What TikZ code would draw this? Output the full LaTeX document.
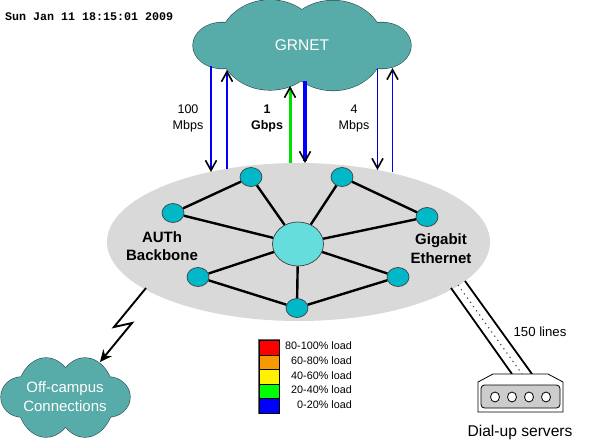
\documentclass[tikz,border=0pt]{standalone}
\usepackage{fontspec}
\setmainfont{Liberation Sans}
\newfontfamily\stampfont{Liberation Mono}
\usetikzlibrary{shapes.geometric,arrows.meta}
\definecolor{cloudteal}{HTML}{57ABA9}
\definecolor{cloudline}{HTML}{2F4F4E}
\definecolor{hubcol}{HTML}{66DDDD}
\definecolor{nodecol}{HTML}{00B8C8}
\definecolor{ellgray}{HTML}{D9D9D9}
\definecolor{pureblue}{HTML}{0000FF}
\definecolor{darkerblue}{HTML}{0000C8}
\definecolor{puregreen}{HTML}{00E000}
\definecolor{loadorange}{HTML}{F79900}
\tikzset{
  x=1pt,y=-1pt,
  router/.style={ellipse,draw=black!75,line width=0.7pt,fill=nodecol,minimum width=22pt,minimum height=19pt,inner sep=0pt},
  hubnode/.style={ellipse,draw=black!75,line width=0.7pt,fill=hubcol,minimum width=51pt,minimum height=44pt,inner sep=0pt},
  backbone/.style={line width=2.4pt,black},
  barbdown/.style={-{Straight Barb[black,length=10pt,width=11pt,line width=1.6pt]}},
  lbl/.style={inner sep=0pt,align=center,font=\fontsize{12.5}{16}\selectfont},
  boldlbl/.style={inner sep=0pt,align=center,font=\fontsize{12.5}{16}\selectfont\bfseries},
  netlbl/.style={inner sep=0pt,align=center,font=\fontsize{15}{18.5}\selectfont\bfseries},
  cloudlbl/.style={inner sep=0pt,align=center,text=white,font=\fontsize{15}{19}\selectfont},
  swatch/.style={draw=black,line width=0.6pt,minimum width=20pt,minimum height=14.6pt,inner sep=0pt,anchor=north west},
  loadlbl/.style={inner sep=0pt,anchor=east,font=\fontsize{10.8}{12}\selectfont},
}
\begin{document}
\begin{tikzpicture}
\useasboundingbox (0,0) rectangle (594,442);
\fill[white] (0,0) rectangle (594,442);

% gray backbone ellipse
\node[ellipse,fill=ellgray,minimum width=383pt,minimum height=158pt,inner sep=0pt] (backarea) at (298.5,242) {};

% GRNET cloud
\foreach \c/\rx/\ry in {{(222,45.5)}/29/23,{(270,45)}/51/45,{(333,45.5)}/51/45,{(382,45.5)}/29/23}{
  \draw[cloudline,line width=1.2pt] \c ellipse [x radius=\rx pt,y radius=\ry pt];}
\foreach \c/\rx/\ry in {{(222,45.5)}/29/23,{(270,45)}/51/45,{(333,45.5)}/51/45,{(382,45.5)}/29/23}{
  \fill[cloudteal] \c ellipse [x radius=\rx pt,y radius=\ry pt];}
\node[inner sep=0pt,text=white,font=\fontsize{15.5}{18}\selectfont] (grnet) at (302,45) {GRNET};

% Off-campus cloud
\foreach \c/\rx/\ry in {{(22,397)}/21/20,{(46,397.5)}/29/39.5,{(85,397.5)}/29/39.5,{(108,397)}/22/20}{
  \draw[cloudline,line width=1.2pt] \c ellipse [x radius=\rx pt,y radius=\ry pt];}
\foreach \c/\rx/\ry in {{(22,397)}/21/20,{(46,397.5)}/29/39.5,{(85,397.5)}/29/39.5,{(108,397)}/22/20}{
  \fill[cloudteal] \c ellipse [x radius=\rx pt,y radius=\ry pt];}
\node[cloudlbl] (offcampus) at (65,396.5) {Off-campus\\Connections};

% uplink end points
\coordinate (a1) at (211,66);   \coordinate (a2) at (211,172);
\coordinate (b1) at (227,169);  \coordinate (b2) at (227,70);
\coordinate (c1) at (290,163);  \coordinate (c2) at (290,86);
\coordinate (d1) at (305,81);   \coordinate (d2) at (305,163);
\coordinate (e1) at (377.5,69); \coordinate (e2) at (377.5,170);
\coordinate (f1) at (392.5,172);\coordinate (f2) at (392.5,68);

\draw[barbdown,pureblue,line width=2pt] (a1) -- (a2);
\draw[barbdown,pureblue,line width=1.6pt] (b1) -- (b2);
\draw[barbdown,puregreen,line width=3pt] (c1) -- (c2);
\draw[barbdown,pureblue,line width=3.6pt] (d1) -- (d2);
\draw[barbdown,darkerblue,line width=0.9pt] (e1) -- (e2);
\draw[barbdown,pureblue,line width=0.9pt] (f1) -- (f2);

% uplink labels
\node[lbl] (l100) at (188,118) {100\\Mbps};
\node[boldlbl] (l1g) at (267,118) {1\\Gbps};
\node[lbl] (l4) at (354,118) {4\\Mbps};

% routers
\node[hubnode] (hub) at (298,244) {};
\node[router] (n1) at (251,177) {};
\node[router] (n2) at (342,177) {};
\node[router] (n3) at (173,213) {};
\node[router] (n4) at (427,217) {};
\node[router] (n5) at (198,277) {};
\node[router] (n6) at (398,277) {};
\node[router] (n7) at (297,308) {};
\draw[backbone] (hub) -- (n1);
\draw[backbone] (hub) -- (n2);
\draw[backbone] (hub) -- (n3);
\draw[backbone] (hub) -- (n4);
\draw[backbone] (hub) -- (n5);
\draw[backbone] (hub) -- (n6);
\draw[backbone] (hub) -- (n7);
\draw[backbone] (n3) -- (n1);
\draw[backbone] (n2) -- (n4);
\draw[backbone] (n5) -- (n7);
\draw[backbone] (n6) -- (n7);

\node[netlbl] (auth) at (162,246) {AUTh\\Backbone};
\node[netlbl] (giga) at (441,248.5) {Gigabit\\Ethernet};

% lightning link
\coordinate (z0) at (146,288);
\coordinate (z1) at (114,327);
\coordinate (z2) at (132,323);
\coordinate (z3) at (100,362);
\draw[line width=1.9pt,line join=miter,-{Stealth[length=12pt,width=11pt]}] (z0) -- (z1) -- (z2) -- (z3);

% dial-up lines
\coordinate (g1) at (451,288); \coordinate (g2) at (512,374);
\coordinate (h1) at (465,281); \coordinate (h2) at (532,374);
\coordinate (i1) at (458,285); \coordinate (i2) at (522,374);
\draw[line width=1.8pt] (g1) -- (g2);
\draw[line width=1.8pt] (h1) -- (h2);
\draw[line width=1.1pt,black!75,dash pattern=on 1.2pt off 4pt] (i1) -- (i2);
\node[inner sep=0pt,font=\fontsize{13.2}{16}\selectfont] (lines150) at (540,332) {150 lines};

% dial-up device
\draw[fill=white,line width=0.8pt] (478,412) -- (478,382) -- (493,374) -- (548,374) -- (563,382) -- (563,412) -- cycle;
\draw[fill=black!20,line width=0.8pt,rounded corners=3.5pt] (481,408) -- (481,385) -- (560,385) -- (560,408) -- cycle;
\foreach \hx/\hn in {495/p1,512/p2,529/p3,546/p4}
  \node[ellipse,draw,line width=0.8pt,fill=white,minimum width=9pt,minimum height=10pt,inner sep=0pt] (\hn) at (\hx,397) {};
\node[inner sep=0pt,font=\fontsize{15.6}{18}\selectfont] (dial) at (520,432) {Dial-up servers};

% legend
\fill[black!60] (258,339) rectangle (280,414);
\node[swatch,fill=red] (s1) at (259,340) {};
\node[swatch,fill=loadorange] (s2) at (259,354.6) {};
\node[swatch,fill=yellow] (s3) at (259,369.2) {};
\node[swatch,fill=green] (s4) at (259,383.8) {};
\node[swatch,fill=blue] (s5) at (259,398.4) {};
\node[loadlbl] (t1) at (352,346) {80-100\% load};
\node[loadlbl] (t2) at (352,360.5) {60-80\% load};
\node[loadlbl] (t3) at (352,375.5) {40-60\% load};
\node[loadlbl] (t4) at (352,390) {20-40\% load};
\node[loadlbl] (t5) at (352,405) {0-20\% load};

% timestamp
\node[inner sep=0pt,anchor=west,font=\stampfont\fontsize{11.67}{13}\selectfont\bfseries] (stamp) at (5,17) {Sun Jan 11 18:15:01 2009};
\end{tikzpicture}
\end{document}
